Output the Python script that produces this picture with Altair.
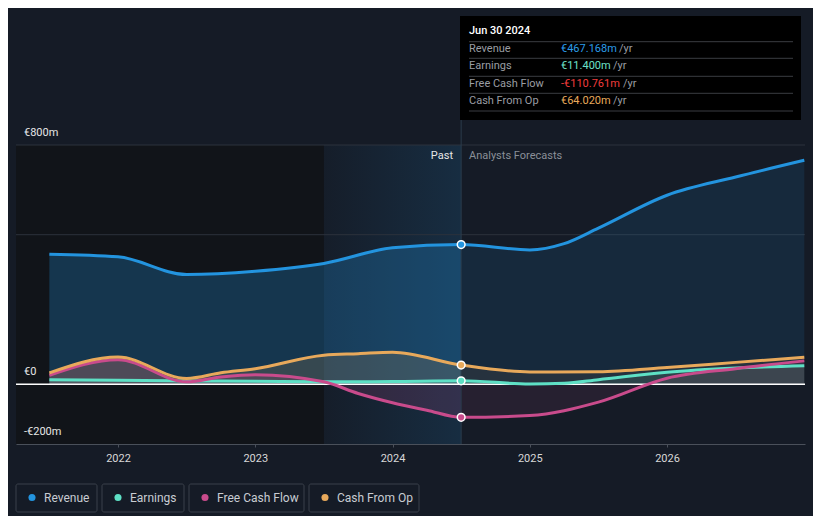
import altair as alt
import pandas as pd

# ---------------- data ----------------
series_names = ["Revenue", "Earnings", "Free Cash Flow", "Cash From Op"]
series_colors = ["#2394df", "#5ee0c5", "#c94b8c", "#e8a95b"]

rev_x = [2021.5, 2022.0, 2022.5, 2023.0, 2023.5, 2024.0, 2024.5, 2025.0, 2025.25, 2025.5, 2026.0, 2026.5, 2027.0]
rev_y = [435, 426, 367, 378, 404, 456, 467.168, 449, 470, 522, 632, 693, 749]

earn_x = [2021.5, 2022.0, 2022.5, 2023.0, 2023.5, 2024.0, 2024.5, 2025.0, 2025.25, 2025.5, 2026.0, 2026.5, 2027.0]
earn_y = [15, 13, 11, 10, 8, 9, 11.4, 1, 3, 15, 40, 54, 62]

fcf_x = [2021.5, 2022.0, 2022.5, 2022.75, 2023.0, 2023.5, 2023.75, 2024.0, 2024.25, 2024.5, 2025.0, 2025.5, 2026.0, 2026.5, 2027.0]
fcf_y = [30, 82, 8, 24, 32, 8, -31, -62, -87, -110.761, -105, -60, 20, 52, 78]

cfo_x = [2021.5, 2022.0, 2022.5, 2022.75, 2023.0, 2023.5, 2023.75, 2024.0, 2024.5, 2025.0, 2025.5, 2026.0, 2026.5, 2027.0]
cfo_y = [38, 91, 19, 38, 52, 97, 102, 107, 64.02, 41, 42, 56, 73, 90]

all_x = [rev_x, earn_x, fcf_x, cfo_x]
all_y = [rev_y, earn_y, fcf_y, cfo_y]

cut_year = 2024.5
past_band = [2023.5, 2024.5]
x_start, x_end = 2021.257, 2027.005
y_min, y_max = -200, 800
y_grid = [500, 800]
y_label_vals = [800, 0, -200]
y_label_txt = ["€800m", "€0", "-€200m"]
x_ticks = [2022, 2023, 2024, 2025, 2026]

tip_title = "Jun 30 2024"
tip_values = ["€467.168m", "€11.400m", "-€110.761m", "€64.020m"]
tip_value_colors = ["#2b9ce8", "#6de0c8", "#f03c3c", "#e8a95b"]

BG = "#151b26"
FONT = "Roboto"

xs = alt.Scale(domain=[x_start, x_end], nice=False, zero=False)
ys = alt.Scale(domain=[y_min, y_max], nice=False, zero=False)
x_axis = alt.Axis(values=x_ticks, format="d", grid=False, labelColor="#d8d8d8",
                  labelFontSize=11, labelFont=FONT, domainColor="#4a505a",
                  tickColor="#4a505a", tickSize=3, labelPadding=5, title=None)


def X(field):
    return alt.X(field, scale=xs, axis=x_axis, title=None)


def Y(field):
    return alt.Y(field, scale=ys, axis=None)


def frame(xv, yv, name):
    return pd.DataFrame({"x": xv, "v": yv, "s": name})


layers = []

# dark left region
layers.append(
    alt.Chart(pd.DataFrame({"a": [x_start], "b": [past_band[0]]}))
    .mark_rect(color="#111419")
    .encode(x=X("a:Q"), x2="b:Q", y=alt.value(0), y2=alt.value(299))
)
# past band with gradient
layers.append(
    alt.Chart(pd.DataFrame({"a": [past_band[0]], "b": [past_band[1]]}))
    .mark_rect(
        color=alt.Gradient(
            gradient="linear", x1=0, x2=1, y1=0, y2=0,
            stops=[alt.GradientStop(offset=0, color="rgba(35,148,223,0.02)"),
                   alt.GradientStop(offset=1, color="rgba(35,148,223,0.15)")],
        )
    )
    .encode(x=X("a:Q"), x2="b:Q", y=alt.value(0), y2=alt.value(299))
)
# gridlines
layers.append(
    alt.Chart(pd.DataFrame({"g": y_grid}))
    .mark_rule(color="#2c323c", strokeWidth=1)
    .encode(y=Y("g:Q"), x=alt.value(0), x2=alt.value(789))
)

# areas
area_op = {"Revenue": (0.27, 0.12), "Earnings": (0.15, 0.10),
           "Free Cash Flow": (0.16, 0.10), "Cash From Op": (0.16, 0.08)}
for name, col, xv, yv in zip(series_names, series_colors, all_x, all_y):
    df = frame(xv, yv, name)
    past = df[df.x <= cut_year]
    fut = df[df.x >= cut_year]
    po, fo = area_op[name]
    for part, op in ((past, po), (fut, fo)):
        layers.append(
            alt.Chart(part)
            .mark_area(color=col, opacity=op, interpolate="monotone")
            .encode(x=X("x:Q"), y=Y("v:Q"), y2=alt.datum(0))
        )

# zero line
layers.append(
    alt.Chart(pd.DataFrame({"z": [0]}))
    .mark_rule(color="#ffffff", strokeWidth=1.5)
    .encode(y=Y("z:Q"), x=alt.value(0), x2=alt.value(789))
)

# lines
for name, col, xv, yv in zip(series_names, series_colors, all_x, all_y):
    layers.append(
        alt.Chart(frame(xv, yv, name))
        .mark_line(color=col, strokeWidth=3, interpolate="monotone")
        .encode(x=X("x:Q"), y=Y("v:Q"))
    )

# vertical tooltip rule
layers.append(
    alt.Chart(pd.DataFrame({"c": [cut_year]}))
    .mark_rule(color="#2a3b4c", strokeWidth=1)
    .encode(x=X("c:Q"), y=alt.value(-129), y2=alt.value(299))
)

# markers
for name, col, xv, yv in zip(series_names, series_colors, all_x, all_y):
    pt = frame(xv, yv, name)
    pt = pt[pt.x == cut_year]
    layers.append(
        alt.Chart(pt)
        .mark_point(filled=True, fill=col, stroke="#ffffff", strokeWidth=1.5, size=60, opacity=1)
        .encode(x=X("x:Q"), y=Y("v:Q"))
    )

# y labels
layers.append(
    alt.Chart(pd.DataFrame({"v": y_label_vals, "t": y_label_txt}))
    .mark_text(align="left", baseline="middle", dy=-12, color="#e6e6e6", fontSize=11, font=FONT)
    .encode(y=Y("v:Q"), x=alt.value(8), text="t:N")
)

# Past / Analysts Forecasts
layers.append(
    alt.Chart(pd.DataFrame({"t": ["Past"]}))
    .mark_text(align="right", baseline="middle", color="#e6e6e6", fontSize=11, font=FONT)
    .encode(x=alt.value(437), y=alt.value(11), text="t:N")
)
layers.append(
    alt.Chart(pd.DataFrame({"t": ["Analysts Forecasts"]}))
    .mark_text(align="left", baseline="middle", color="#8a8f98", fontSize=11, font=FONT)
    .encode(x=alt.value(453), y=alt.value(11), text="t:N")
)

# tooltip box
layers.append(
    alt.Chart(pd.DataFrame({"a": [0]}))
    .mark_rect(color="#000000")
    .encode(x=alt.value(444), x2=alt.value(785), y=alt.value(-129), y2=alt.value(-25))
)
for yy in [-103.3, -86.7, -68.7, -51.7, -34]:
    layers.append(
        alt.Chart(pd.DataFrame({"a": [0]}))
        .mark_rule(color="#3a3d42", strokeWidth=1)
        .encode(x=alt.value(453), x2=alt.value(777), y=alt.value(yy))
    )
layers.append(
    alt.Chart(pd.DataFrame({"t": [tip_title]}))
    .mark_text(align="left", baseline="middle", color="#ffffff", fontSize=11, font=FONT, fontWeight=500)
    .encode(x=alt.value(453), y=alt.value(-114), text="t:N")
)
row_y = [-95.7, -79, -61, -44.3]
yr_x = [603, 597, 607, 597]
for name, val, vcol, ry, yx in zip(series_names, tip_values, tip_value_colors, row_y, yr_x):
    layers.append(
        alt.Chart(pd.DataFrame({"t": [name]}))
        .mark_text(align="left", baseline="middle", color="#9a9da3", fontSize=11, font=FONT)
        .encode(x=alt.value(453), y=alt.value(ry), text="t:N")
    )
    layers.append(
        alt.Chart(pd.DataFrame({"t": [val]}))
        .mark_text(align="left", baseline="middle", color=vcol, fontSize=11, font=FONT)
        .encode(x=alt.value(545), y=alt.value(ry), text="t:N")
    )
    layers.append(
        alt.Chart(pd.DataFrame({"t": ["/yr"]}))
        .mark_text(align="left", baseline="middle", color="#9a9da3", fontSize=11, font=FONT)
        .encode(x=alt.value(yx), y=alt.value(ry), text="t:N")
    )

# legend
box_x = [(0, 81), (86, 168), (173, 288), (293, 403)]
dot_x = [16, 102, 189, 309]
txt_x = [28, 114, 201, 321]
for name, col, (bx0, bx1), dx, tx in zip(series_names, series_colors, box_x, dot_x, txt_x):
    layers.append(
        alt.Chart(pd.DataFrame({"a": [0]}))
        .mark_rect(fill=BG, stroke="#3b414b", strokeWidth=1, cornerRadius=2)
        .encode(x=alt.value(bx0), x2=alt.value(bx1), y=alt.value(339), y2=alt.value(367))
    )
    layers.append(
        alt.Chart(pd.DataFrame({"a": [0]}))
        .mark_point(filled=True, color=col, size=50, opacity=1)
        .encode(x=alt.value(dx), y=alt.value(352.5))
    )
    layers.append(
        alt.Chart(pd.DataFrame({"t": [name]}))
        .mark_text(align="left", baseline="middle", color="#c8ccd2", fontSize=12, font=FONT)
        .encode(x=alt.value(tx), y=alt.value(352.5), text="t:N")
    )

chart = (
    alt.layer(*layers)
    .properties(width=789, height=299, background=BG,
                padding={"left": 8, "top": 137, "right": 8, "bottom": 72},
                autosize=alt.AutoSizeParams(type="none"))
    .configure_view(stroke=None)
)

chart.save("out.html", embed_options={"renderer": "svg", "actions": False})
